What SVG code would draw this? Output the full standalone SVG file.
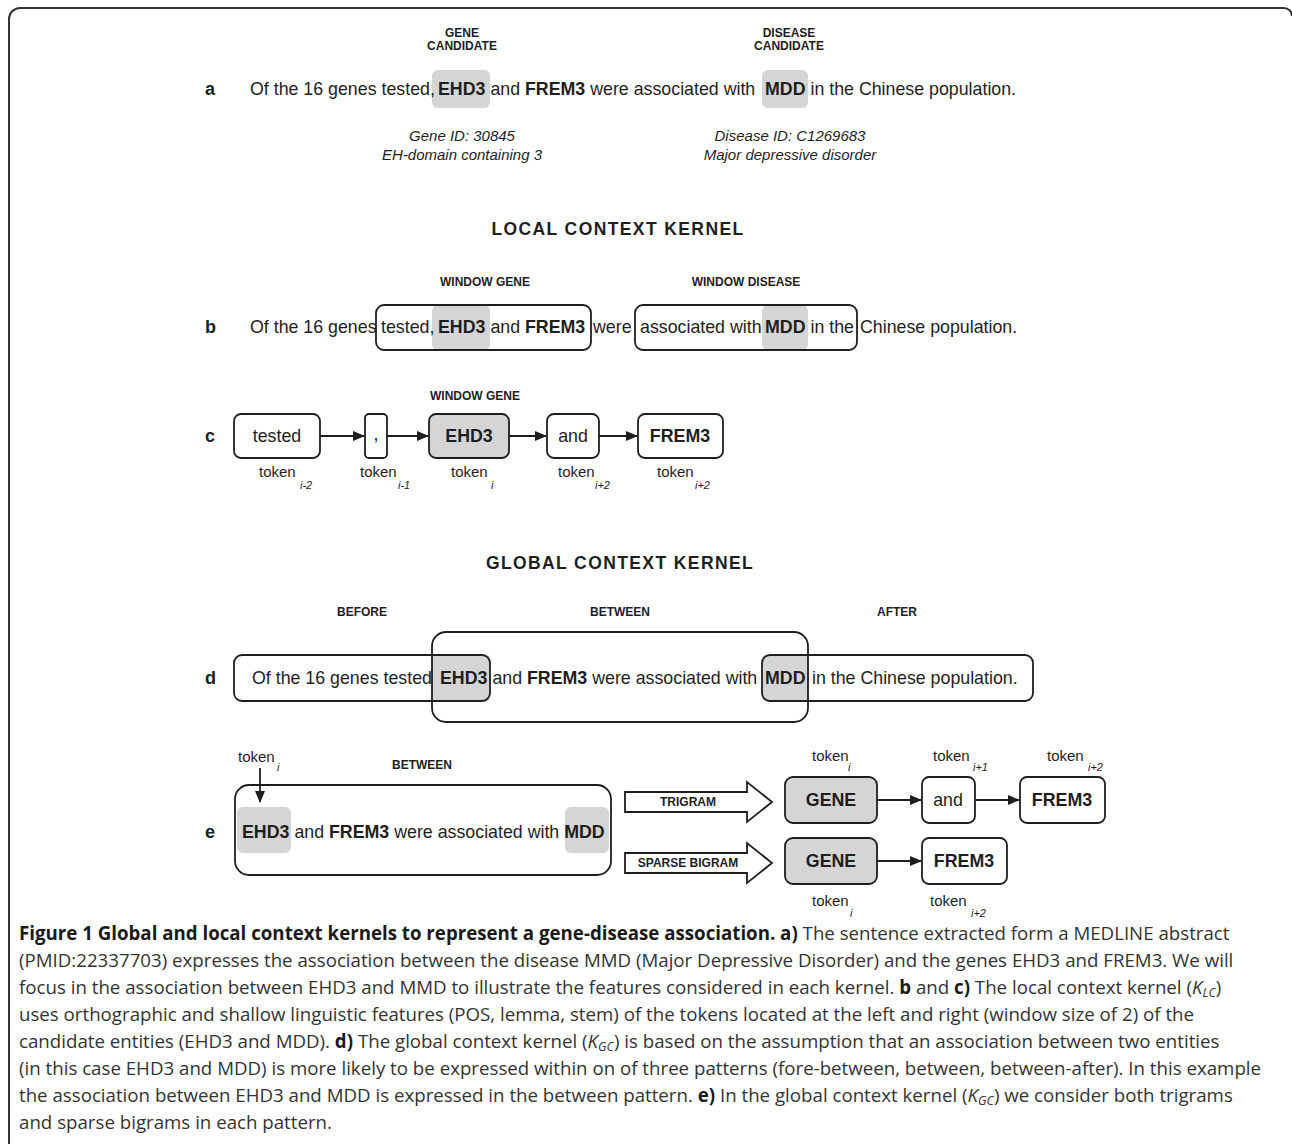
<svg xmlns="http://www.w3.org/2000/svg" width="1292" height="1144" viewBox="0 0 1292 1144">
<style>
text{font-family:"Liberation Sans",Arial,sans-serif;fill:#1e1e1e}
.s{font-size:17.8px}
.b{font-weight:bold}
.lab{font-size:12px;font-weight:bold;text-anchor:middle}
.head{font-size:17.5px;font-weight:bold;text-anchor:middle;letter-spacing:1.4px}
.let{font-size:18px;font-weight:bold}
.it{font-size:15px;font-style:italic;text-anchor:middle}
.tok{font-size:15px}
.sub{font-size:11px;font-style:italic}
.mid{text-anchor:middle}
.hl{fill:#d5d5d5}
.box{fill:none;stroke:#1e1e1e;stroke-width:1.8}
.wbox{fill:#fff;stroke:#1e1e1e;stroke-width:1.8}
.gbox{fill:#d5d5d5;stroke:#1e1e1e;stroke-width:1.8}
.con{stroke:#1e1e1e;stroke-width:1.8;fill:none}
.cap{font-family:"Open Sans","Noto Sans",sans-serif;font-size:18.7px;fill:#333}
.cb{font-weight:bold;fill:#1a1a1a}
.ci{font-style:italic}
</style>
<defs>
<marker id="ah" markerUnits="userSpaceOnUse" markerWidth="12" markerHeight="10" refX="11" refY="5" orient="auto">
<path d="M0,0 L12,5 L0,10 Z" fill="#1e1e1e"/>
</marker>
</defs>
<rect width="1292" height="1144" fill="#fff"/>
<path d="M9,1144 V19 A11,11 0 0 1 20,8 H1284 A8,8 0 0 1 1292,16" fill="none" stroke="#333" stroke-width="2"/>

<!-- a -->
<g id="section-a">
<text class="lab" x="462" y="37">GENE</text>
<text class="lab" x="462" y="50">CANDIDATE</text>
<text class="lab" x="789" y="37">DISEASE</text>
<text class="lab" x="789" y="50">CANDIDATE</text>
<rect class="hl" x="432" y="70" width="58" height="38" rx="6"/>
<rect class="hl" x="762" y="70" width="46" height="38" rx="6"/>
<text class="let" x="205" y="95">a</text>
<text class="s" y="95"><tspan x="250">Of the 16 genes tested, </tspan><tspan x="438" class="b">EHD3</tspan><tspan> and </tspan><tspan class="b">FREM3</tspan><tspan> were associated with </tspan><tspan x="765" class="b">MDD</tspan><tspan> in the Chinese population.</tspan></text>
<text class="it" x="462" y="141">Gene ID: 30845</text>
<text class="it" x="462" y="160">EH-domain containing 3</text>
<text class="it" x="790" y="141">Disease ID: C1269683</text>
<text class="it" x="790" y="160">Major depressive disorder</text>
</g>

<text class="head" x="618" y="235">LOCAL CONTEXT KERNEL</text>

<!-- b -->
<g id="section-b">
<text class="lab" x="485" y="286">WINDOW GENE</text>
<text class="lab" x="746" y="286">WINDOW DISEASE</text>
<rect class="hl" x="432" y="305" width="58" height="45" rx="6"/>
<rect class="hl" x="762" y="305" width="46" height="45" rx="6"/>
<rect id="window-gene" class="box" x="376" y="305" width="215" height="45" rx="8"/>
<rect id="window-disease" class="box" x="635" y="305" width="222" height="45" rx="8"/>
<text class="let" x="205" y="333">b</text>
<text class="s" y="333"><tspan x="250">Of the 16 genes</tspan><tspan x="381">tested, </tspan><tspan x="438" class="b">EHD3</tspan><tspan> and </tspan><tspan class="b">FREM3</tspan><tspan x="593">were</tspan><tspan x="640">associated with </tspan><tspan x="765" class="b">MDD</tspan><tspan> in the</tspan><tspan x="860">Chinese population.</tspan></text>
</g>

<!-- c -->
<text class="let" x="205" y="442">c</text>
<text class="lab" x="475" y="400">WINDOW GENE</text>
<g id="c-tested"><rect class="wbox" x="234" y="414" width="86" height="44" rx="7"/><text class="s mid" x="277" y="442">tested</text><text class="tok" x="259" y="477">token</text><text class="sub" x="300" y="489">i-2</text></g>
<g id="c-comma"><rect class="wbox" x="365" y="414" width="22" height="44" rx="4"/><text class="s mid" x="376" y="440">,</text><text class="tok" x="360" y="477">token</text><text class="sub" x="398" y="489">i-1</text></g>
<g id="c-ehd3"><rect class="gbox" x="429" y="414" width="80" height="44" rx="7"/><text class="s b mid" x="469" y="442">EHD3</text><text class="tok" x="451" y="477">token</text><text class="sub" x="491" y="489">i</text></g>
<g id="c-and"><rect class="wbox" x="547" y="414" width="52" height="44" rx="7"/><text class="s mid" x="573" y="442">and</text><text class="tok" x="558" y="477">token</text><text class="sub" x="595" y="489">i+2</text></g>
<g id="c-frem3"><rect class="wbox" x="638" y="414" width="85" height="44" rx="7"/><text class="s b mid" x="680" y="442">FREM3</text><text class="tok" x="657" y="477">token</text><text class="sub" x="695" y="489">i+2</text></g>

<text class="head" x="620" y="569">GLOBAL CONTEXT KERNEL</text>

<!-- d -->
<g id="section-d">
<text class="lab" x="362" y="616">BEFORE</text>
<text class="lab" x="620" y="616">BETWEEN</text>
<text class="lab" x="897" y="616">AFTER</text>
<rect class="hl" x="432" y="655" width="58" height="46" rx="4"/>
<rect class="hl" x="762" y="655" width="46" height="46" rx="4"/>
<rect id="before" class="box" x="234" y="655" width="256" height="46" rx="8"/>
<rect id="between" class="box" x="432" y="632" width="376" height="90" rx="14"/>
<rect id="after" class="box" x="762" y="655" width="271" height="46" rx="8"/>
<text class="let" x="205" y="684">d</text>
<text class="s" y="684"><tspan x="252">Of the 16 genes tested</tspan><tspan x="440" class="b">EHD3</tspan><tspan> and </tspan><tspan class="b">FREM3</tspan><tspan> were associated with </tspan><tspan x="765" class="b">MDD</tspan><tspan x="812">in the Chinese population.</tspan></text>
</g>

<!-- e -->
<g id="section-e-between">
<text class="tok" x="238" y="762">token</text><text class="sub" x="277" y="771">i</text>
<text class="lab" x="422" y="769">BETWEEN</text>
<rect class="hl" x="237" y="807" width="54" height="46" rx="6"/>
<rect class="hl" x="565" y="807" width="44" height="46" rx="6"/>
<rect class="box" x="235" y="785" width="376" height="90" rx="14"/>
<text class="let" x="205" y="838">e</text>
<text class="s" y="838"><tspan x="242" class="b">EHD3</tspan><tspan> and </tspan><tspan class="b">FREM3</tspan><tspan> were associated with </tspan><tspan class="b">MDD</tspan></text>
</g>
<g id="trigram-arrow"><polygon class="wbox" points="625,792 747,792 747,782 772,802 747,822 747,812 625,812"/><text class="lab" x="688" y="806">TRIGRAM</text></g>
<g id="sparse-arrow"><polygon class="wbox" points="625,853 747,853 747,843 772,863 747,883 747,873 625,873"/><text class="lab" x="688" y="867">SPARSE BIGRAM</text></g>

<g id="t-gene"><text class="tok" x="812" y="761">token</text><text class="sub" x="848" y="771">i</text><rect class="gbox" x="785" y="777" width="92" height="46" rx="8"/><text class="s b mid" x="831" y="806">GENE</text></g>
<g id="t-and"><text class="tok" x="933" y="761">token</text><text class="sub" x="973" y="771">i+1</text><rect class="wbox" x="922" y="777" width="53" height="46" rx="7"/><text class="s mid" x="948" y="806">and</text></g>
<g id="t-frem3"><text class="tok" x="1047" y="761">token</text><text class="sub" x="1088" y="771">i+2</text><rect class="wbox" x="1020" y="777" width="85" height="46" rx="7"/><text class="s b mid" x="1062" y="806">FREM3</text></g>
<g id="s-gene"><rect class="gbox" x="785" y="838" width="92" height="46" rx="8"/><text class="s b mid" x="831" y="867">GENE</text><text class="tok" x="812" y="906">token</text><text class="sub" x="850" y="917">i</text></g>
<g id="s-frem3"><rect class="wbox" x="922" y="838" width="85" height="46" rx="7"/><text class="s b mid" x="964" y="867">FREM3</text><text class="tok" x="930" y="906">token</text><text class="sub" x="971" y="917">i+2</text></g>

<g id="connectors">
<line class="con" x1="320" y1="436" x2="364" y2="436" marker-end="url(#ah)"/>
<line class="con" x1="387" y1="436" x2="428" y2="436" marker-end="url(#ah)"/>
<line class="con" x1="509" y1="436" x2="546" y2="436" marker-end="url(#ah)"/>
<line class="con" x1="599" y1="436" x2="637" y2="436" marker-end="url(#ah)"/>
<line class="con" x1="260" y1="768" x2="260" y2="802" marker-end="url(#ah)"/>
<line class="con" x1="877" y1="800" x2="921" y2="800" marker-end="url(#ah)"/>
<line class="con" x1="975" y1="800" x2="1019" y2="800" marker-end="url(#ah)"/>
<line class="con" x1="877" y1="861" x2="921" y2="861" marker-end="url(#ah)"/>
</g>

<g id="caption">
<text class="cap" x="19" y="940"><tspan class="cb">Figure 1 Global and local context kernels to represent a gene-disease association. a)</tspan> The sentence extracted form a MEDLINE abstract</text>
<text class="cap" x="19" y="967">(PMID:22337703) expresses the association between the disease MMD (Major Depressive Disorder) and the genes EHD3 and FREM3. We will</text>
<text class="cap" x="19" y="994">focus in the association between EHD3 and MMD to illustrate the features considered in each kernel. <tspan class="cb">b</tspan> and <tspan class="cb">c)</tspan> The local context kernel (<tspan class="ci">K</tspan><tspan class="ci" font-size="12.5" dy="3">LC</tspan><tspan dy="-3">)</tspan></text>
<text class="cap" x="19" y="1021">uses orthographic and shallow linguistic features (POS, lemma, stem) of the tokens located at the left and right (window size of 2) of the</text>
<text class="cap" x="19" y="1048">candidate entities (EHD3 and MDD). <tspan class="cb">d)</tspan> The global context kernel (<tspan class="ci">K</tspan><tspan class="ci" font-size="12.5" dy="3">GC</tspan><tspan dy="-3">) is based on the assumption that an association between two entities</tspan></text>
<text class="cap" x="19" y="1075">(in this case EHD3 and MDD) is more likely to be expressed within on of three patterns (fore-between, between, between-after). In this example</text>
<text class="cap" x="19" y="1102">the association between EHD3 and MDD is expressed in the between pattern. <tspan class="cb">e)</tspan> In the global context kernel (<tspan class="ci">K</tspan><tspan class="ci" font-size="12.5" dy="3">GC</tspan><tspan dy="-3">) we consider both trigrams</tspan></text>
<text class="cap" x="19" y="1129">and sparse bigrams in each pattern.</text>
</g>
</svg>
